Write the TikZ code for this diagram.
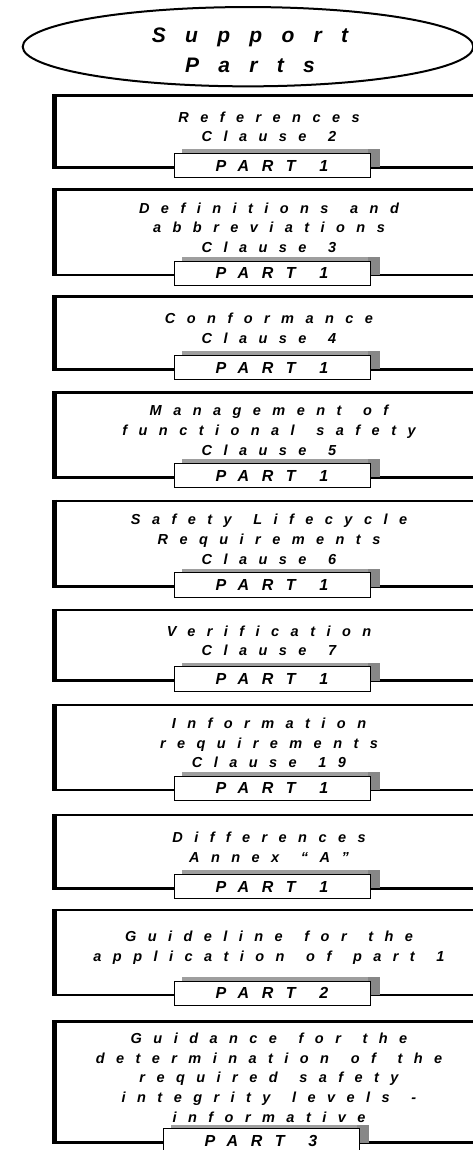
\documentclass[tikz,border=0pt]{standalone}
\usepackage{fontspec}
\setmainfont{Liberation Sans}
\newfontfamily\spacedfont[LetterSpace=79,WordSpace=1.4]{Liberation Sans}
\newfontfamily\titlefont[LetterSpace=92]{Liberation Sans}
\usetikzlibrary{shapes.geometric}

\definecolor{shadelight}{gray}{0.62}
\definecolor{shadedark}{gray}{0.53}

\tikzset{
  frameline/.style={line width=2.5pt},
  leftbar/.style={line width=5pt},
  shadowlight/.style={fill=shadelight},
  shadowdark/.style={fill=shadedark},
  tabnode/.style={draw, line width=1pt, fill=white, minimum width=196,
    minimum height=24.5, inner sep=0pt,
    font=\spacedfont\bfseries\itshape\fontsize{16}{18}\selectfont},
  boxtext/.style={align=center, inner sep=0pt,
    font=\spacedfont\bfseries\itshape\fontsize{14.5}{19.6}\selectfont},
  titlenode/.style={draw, ellipse, line width=2pt, minimum width=450.6,
    minimum height=79.3, inner sep=0pt},
  titletext/.style={align=center, inner sep=0pt,
    font=\titlefont\bfseries\itshape\fontsize{21}{30}\selectfont},
}

% #1 name, #2 top edge, #3 bottom edge, #4 left x of the tab, #5 text, #6 tab label
\newcommand\clausebox[6]{%
  \pgfmathsetmacro\tabtop{#3-14}%
  \pgfmathsetmacro\tabmid{#3-1.75}%
  \pgfmathsetmacro\tabright{#4+196}%
  \pgfmathsetmacro\textmid{(#2+#3-14)/2+2.5}%
  \draw[frameline] (480,#2) -| (54.2,#3) -- (480,#3);
  \draw[leftbar] (54.2,#2-1.25) -- (54.2,#3+1.25);
  \fill[shadowlight] (#4+10,\tabtop-4) rectangle (\tabright+12,#3);
  \fill[shadowdark] (\tabright,\tabtop-4) rectangle (\tabright+12,#3);
  \node[tabnode] (#1-tab) at (#4+100,\tabmid) {#6};
  \node[boxtext] (#1-text) at (269,\textmid) {#5};
}

\begin{document}
\begin{tikzpicture}[x=1pt,y=-1pt]
  \useasboundingbox (0,0) rectangle (473,1150);
  \clip (0,0) rectangle (473,1150);

  \node[titlenode] (title) at (248,46.7) {};
  \node[titletext] (title-text) at (250,50) {Support\\Parts};

  \clausebox{b1}{95.3}{167.5}{172}{References\\Clause 2}{PART 1}
  \clausebox{b2}{189.3}{275}{172}{Definitions and\\abbreviations\\Clause 3}{PART 1}
  \clausebox{b3}{296.7}{369.3}{172}{Conformance\\Clause 4}{PART 1}
  \clausebox{b4}{392.3}{477.3}{172}{Management of\\functional safety\\Clause 5}{PART 1}
  \clausebox{b5}{501}{586.7}{172}{Safety Lifecycle\\Requirements\\Clause 6}{PART 1}
  \clausebox{b6}{610}{680.7}{172}{Verification\\Clause 7}{PART 1}
  \clausebox{b7}{705}{790}{172}{Information\\requirements\\Clause 19}{PART 1}
  \clausebox{b8}{815}{888.3}{172}{Differences\\Annex “A”}{PART 1}
  \clausebox{b9}{910}{995}{172}{Guideline for the\\application of part 1}{PART 2}
  \clausebox{b10}{1021.7}{1142.7}{161}{Guidance for the\\determination of the\\required safety\\integrity levels -\\informative}{PART 3}
\end{tikzpicture}
\end{document}
